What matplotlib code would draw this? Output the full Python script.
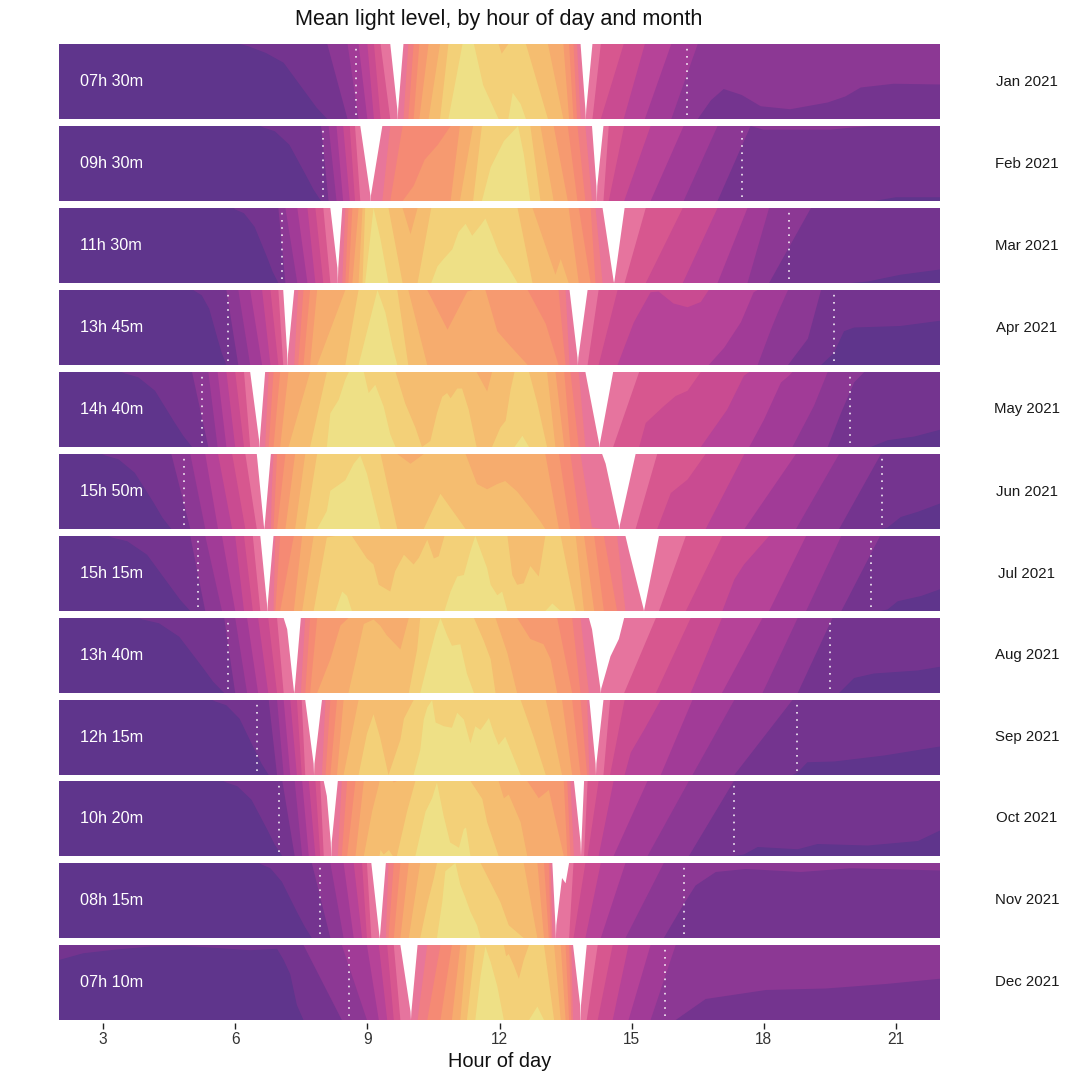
import matplotlib
matplotlib.use('Agg')
import matplotlib.pyplot as plt

plt.rcParams['font.family'] = ['Liberation Sans', 'DejaVu Sans']

months = ['Jan 2021', 'Feb 2021', 'Mar 2021', 'Apr 2021', 'May 2021', 'Jun 2021',
          'Jul 2021', 'Aug 2021', 'Sep 2021', 'Oct 2021', 'Nov 2021', 'Dec 2021']
day_lengths = ['07h 30m', '09h 30m', '11h 30m', '13h 45m', '14h 40m', '15h 50m',
               '15h 15m', '13h 40m', '12h 15m', '10h 20m', '08h 15m', '07h 10m']
sunrise = [8.75, 8.0, 7.07, 5.84, 5.25, 4.84, 5.16, 5.83, 6.5, 7.0, 7.93, 8.58]
sunset = [16.25, 17.5, 18.58, 19.59, 19.95, 20.68, 20.43, 19.5, 18.75, 17.33, 16.18, 15.75]
hour_ticks = [3, 6, 9, 12, 15, 18, 21]

# hours and mean level per month, level is in band units (one band = panel height)
hours_jan = [2, 5, 5.8, 6.3, 6.7, 7.1, 7.6, 7.85, 8.09, 8.55, 8.8, 9.0, 9.15, 9.3, 9.52, 9.68, 9.70, 9.82, 9.93, 10.05, 10.18, 10.39, 10.65,
             10.84, 11.16, 11.4, 11.63, 11.98, 12.05, 12.2, 12.3, 12.48, 12.6, 13.1, 13.45, 13.58, 13.68, 13.76, 13.84,
             13.95, 13.97, 14.11, 14.3, 14.82, 15.3, 15.9, 16.5, 16.8, 17.09, 17.5, 17.93, 18.6, 19.45, 19.85, 20.2, 20.95, 22]
level_jan = [-8.6, -8.5, -8.05, -7.97, -7.88, -7.75, -7.35, -7.15, -7, -6, -5, -4, -3, -2, -1, -0.13, 0.13, 1, 2, 3, 4, 5, 6,
             7, 8, 8.05, 7.45, 7, 6.87, 7, 7.35, 7.2, 7, 6, 5, 4, 3, 2, 1,
             0.13, -0.13, -1, -2, -3, -4, -5, -6, -6.25, -6.4, -6.32, -6.17, -6.13, -6.22, -6.3, -6.42, -6.47, -6.46]

hours_feb = [2, 5, 6.4, 6.64, 6.9, 7.23, 7.6, 7.78, 7.95, 8.12, 8.3, 8.45, 8.6, 8.72, 8.84, 9.07, 9.08, 9.34, 9.52, 9.8, 10.05, 10.3,
             10.6, 10.89, 11.1, 11.4, 11.6, 11.8, 12.1, 12.42, 12.55, 12.7, 12.93, 13.23, 13.55, 13.77, 13.95, 14.1,
             14.2, 14.22, 14.36, 14.48, 14.83, 15.43, 16.18, 16.95, 17.7, 18, 19.5, 20, 20.5, 21, 22]
level_feb = [-8.6, -8.4, -8.05, -7.98, -7.93, -7.75, -7.35, -7.15, -7, -6, -5, -4, -3, -2, -1, -0.07, 0.07, 1, 2, 3, 3.2, 3.55,
             3.75, 4, 5, 6, 7, 7.45, 7.8, 8, 7.63, 7, 6, 5, 4, 3, 2, 1,
             0.2, -0.2, -1, -2, -3, -4, -5, -6, -7, -6.95, -6.95, -6.98, -7, -7.05, -7.05]

hours_mar = [2, 5, 5.9, 6.0, 6.2, 6.44, 6.72, 6.85, 6.98, 7.14, 7.41, 7.64, 7.82, 8.0, 8.16, 8.32, 8.34, 8.43, 8.5, 8.57, 8.66, 8.8, 8.89, 8.95,
             9.14, 9.3, 9.48, 9.8, 9.98, 10.14, 10.45, 10.59, 10.73, 10.93, 11.07, 11.23, 11.38, 11.57, 11.68, 11.84,
             11.98, 12.18, 12.41, 12.75, 13.23, 13.27, 13.39, 13.57, 13.8, 14.07, 14.18, 14.34, 14.59, 14.61, 14.84,
             15.32, 16.16, 16.95, 17.63, 18.12, 19.07, 19.98, 20.36, 21.1, 22]
level_mar = [-8.6, -8.4, -8.05, -7.98, -7.93, -7.75, -7.35, -7.15, -7, -6, -5, -4, -3, -2, -1, -0.2, 0.2, 1, 2, 3, 4, 5, 6, 7,
             8, 7.58, 7, 6, 5.65, 6, 7, 7.22, 7.32, 7.45, 7.68, 7.79, 7.63, 7.77, 7.86, 7.63,
             7.41, 7.23, 7, 6, 5.18, 5.11, 5.32, 5, 4, 3, 2, 1, 0.03, -0.03, -1,
             -2, -3, -4, -5, -6, -7, -7, -7.02, -7.11, -7.18]

hours_apr = [2, 4, 4.9, 5.1, 5.24, 5.41, 5.6, 5.7, 5.8, 6.07, 6.34, 6.61, 6.8, 6.98, 7.09, 7.18, 7.2, 7.34, 7.43, 7.55, 7.7, 7.86, 8.5, 8.8, 9.23,
             9.41, 9.57, 9.68, 9.93, 10.36, 10.82, 11.27, 11.4, 11.68, 11.95, 12.25, 12.64, 13.05, 13.34, 13.5, 13.59,
             13.77, 13.79, 14.0, 14.25, 14.68, 15.05, 15.43, 15.61, 15.95, 16.27, 16.57, 16.75, 17.1, 17.48, 17.77,
             17.86, 18.16, 18.32, 18.55, 19.0, 19.3, 19.59, 19.82, 20.05, 21.1, 22]
level_apr = [-8.6, -8.4, -8.05, -7.98, -7.93, -7.75, -7.35, -7.15, -7, -6, -5, -4, -3, -2, -1, -0.15, 0.15, 1, 2, 3, 4, 5, 6, 7, 8,
             7.7, 7.25, 7, 6, 5, 4.47, 4.98, 5, 5, 4.45, 4.25, 4, 3.55, 3, 2, 1,
             0.1, -0.1, -1, -2, -3, -3.57, -3.97, -3.98, -3.82, -3.77, -3.84, -4, -4.23, -4.57, -4.97,
             -5, -5.47, -5.7, -6, -6.35, -7, -7.16, -7.45, -7.5, -7.52, -7.59]

hours_may = [2, 3.2, 3.5, 3.8, 4.18, 4.6, 4.82, 5.02, 5.39, 5.6, 5.8, 6.0, 6.2, 6.34, 6.54, 6.56, 6.68, 6.76, 6.87, 7.02, 7.21, 7.7, 8.08,
             8.16, 8.35, 8.5, 8.58, 8.92, 9.03, 9.18, 9.37, 9.52, 9.64, 9.86, 10.09, 10.24, 10.43, 10.58, 10.7, 10.81,
             10.89, 11.04, 11.15, 11.3, 11.48, 11.72, 11.83, 12.02, 12.14, 12.25, 12.34, 12.52, 12.67, 12.86, 13.08,
             13.27, 13.47, 13.61, 13.8, 13.95, 14.26, 14.28, 14.58, 15.17, 15.32, 15.74, 16, 16.27, 16.57, 17.17,
             17.55, 17.67, 18.0, 18.39, 18.57, 18.65, 19.14, 19.45, 19.75, 20.05, 20.28, 20.43, 20.81, 21.42, 22]
level_may = [-8.5, -8.05, -7.98, -7.93, -7.75, -7.35, -7.15, -7, -6, -5, -4, -3, -2, -1, -0.1, 0.1, 1, 2, 3, 4, 5, 6, 7,
             7.45, 7.63, 7.9, 8, 8, 7.72, 7.83, 7.54, 7.17, 7, 6.58, 6.26, 6, 6.08, 6.45, 6.67, 6.72,
             6.65, 6.78, 6.78, 6.5, 6, 5.74, 6, 6.26, 6.35, 6.76, 7, 7.15, 7, 6.58, 6,
             5, 4, 3, 2, 1, 0.05, -0.05, -1, -2, -2.32, -2.55, -2.68, -2.75, -3, -3.5,
             -3.95, -4, -4.36, -4.86, -4.95, -5, -5.55, -6, -6.45, -6.86, -7, -7, -7.09, -7.14, -7.23]

hours_jun = [2, 2.8, 3.05, 3.35, 3.72, 4.15, 4.35, 4.55, 4.98, 5.32, 5.61, 5.93, 6.23, 6.49, 6.65, 6.67, 6.81, 6.83, 6.95, 7.14, 7.36, 7.59, 7.86,
             8.08, 8.16, 8.5, 8.69, 8.84, 8.99, 9.14, 9.3, 9.45, 9.68, 9.98, 10.28, 10.47, 10.66, 10.89, 11.11, 11.23,
             11.49, 11.72, 11.95, 12.13, 12.4, 12.7, 12.93, 13.04, 13.35, 13.61, 13.84, 14.1, 14.33, 14.41, 14.71, 14.73,
             15.09, 15.58, 15.89, 16.27, 16.68, 17.56, 18.73, 19.71, 20.66, 20.81, 21.11, 21.5, 22]
level_jun = [-8.5, -8.05, -7.98, -7.93, -7.75, -7.35, -7.15, -7, -6, -5, -4, -3, -2, -1, -0.05, 0.05, 1, 1.5, 3, 4, 5, 6, 7,
             7.24, 7.51, 7.65, 7.87, 7.98, 7.74, 7.38, 7, 6.6, 6, 5.87, 6, 6.24, 6.47, 6.28, 6.1, 6,
             5.6, 5.53, 5.6, 5.64, 5.5, 5.28, 5.1, 5, 4, 3, 2, 1.02, 1, 0.87, 0.05, -0.05,
             -1, -2, -2.48, -2.66, -3, -4, -5, -6, -7, -7.02, -7.16, -7.23, -7.34]

hours_jul = [2, 2.95, 3.2, 3.55, 4.0, 4.5, 4.75, 4.98, 5.32, 5.7, 6.0, 6.2, 6.4, 6.57, 6.72, 6.74, 6.87, 6.91, 7.02, 7.33, 7.52, 7.78, 8.08,
             8.27, 8.43, 8.54, 8.65, 8.99, 9.14, 9.26, 9.52, 9.63, 9.83, 10.05, 10.17, 10.36, 10.51, 10.62, 10.75, 10.89,
             11.04, 11.19, 11.34, 11.45, 11.72, 11.8, 11.95, 12.06, 12.18, 12.29, 12.4, 12.55, 12.7, 12.89, 13.04, 13.2,
             13.39, 13.61, 13.73, 13.92, 14.15, 14.37, 14.67, 14.86, 14.94, 15.27, 15.29, 15.62, 16.23, 17.06, 17.33,
             17.55, 18.12, 18.96, 19.76, 20.64, 20.81, 21.04, 21.57, 22]
level_jul = [-8.5, -8.05, -7.98, -7.93, -7.75, -7.35, -7.15, -7, -6, -5, -4, -3, -2, -1, -0.1, 0.1, 1, 2, 3, 4, 5, 6, 6.98,
             7, 7.26, 7.2, 7, 6.7, 6.62, 6.35, 6.26, 6.53, 6.75, 6.62, 6.71, 6.95, 6.7, 6.73, 7, 7.26,
             7.46, 7.48, 7.8, 8, 7.57, 7.35, 7.21, 7.26, 7, 6.48, 6.35, 6.37, 6.6, 6.46, 7, 7.1,
             7, 6.35, 6, 5, 4, 3, 2, 1, 0.8, 0.03, -0.03, -1, -2, -3, -3.42,
             -3.62, -4, -5, -6, -7, -7.02, -7.13, -7.2, -7.29]

hours_aug = [2, 3.6, 3.9, 4.27, 4.73, 5.25, 5.5, 5.75, 6.0, 6.27, 6.52, 6.75, 6.95, 7.1, 7.18, 7.33, 7.35, 7.49, 7.59, 7.7, 7.86, 8.16, 8.39,
             8.57, 8.76, 8.92, 9.14, 9.29, 9.44, 9.75, 9.94, 10.13, 10.2, 10.43, 10.55, 10.66, 10.81, 10.92, 11.11, 11.26,
             11.42, 11.64, 11.8, 11.91, 12.18, 12.4, 12.7, 13.0, 13.16, 13.31, 13.65, 13.84, 14.03, 14.1, 14.29, 14.31,
             14.52, 14.71, 14.83, 15.55, 16.34, 17.05, 17.97, 18.77, 19.56, 19.71, 20.05, 20.5, 21.49, 22]
level_aug = [-8.5, -8.05, -7.98, -7.93, -7.75, -7.35, -7.15, -7, -6, -5, -4, -3, -2, -1, -0.85, -0.04, 0.04, 1, 2, 3, 4, 4.45, 4.9,
             5, 5.49, 5.92, 5.98, 5.9, 5.77, 5.58, 6, 6.58, 7, 7.54, 7.81, 8, 7.77, 7.63, 7.65, 7.26,
             7, 6.7, 6.45, 6, 5.53, 5, 4.72, 4.65, 4.45, 4, 3, 2, 1, 0.85, 0.06, -0.06,
             -0.49, -0.72, -1, -2, -3, -4, -5, -6, -7, -7, -7.2, -7.26, -7.3, -7.35]

hours_sep = [2, 4, 5.3, 5.55, 5.8, 6.1, 6.43, 6.6, 6.76, 6.95, 7.1, 7.25, 7.4, 7.51, 7.59, 7.78, 7.8, 7.97, 8.05, 8.16, 8.31, 8.46, 8.8,
             8.99, 9.14, 9.29, 9.48, 9.75, 9.83, 10.05, 10.2, 10.28, 10.36, 10.47, 10.55, 10.74, 10.92, 11.04, 11.19,
             11.34, 11.45, 11.57, 11.76, 11.87, 11.98, 12.13, 12.48, 12.78, 13.05, 13.24, 13.42, 13.65, 13.84, 13.99,
             14.04, 14.18, 14.2, 14.36, 14.51, 14.84, 14.98, 15.28, 15.66, 16.38, 17.33, 18.65, 18.76, 18.99, 19.6,
             20.73, 22]
level_sep = [-8.5, -8.3, -8.05, -7.98, -7.93, -7.75, -7.35, -7.15, -7, -6, -5, -4, -3, -2, -1, -0.15, 0.15, 1, 2, 3, 4, 5, 6,
             6.55, 6.81, 6.5, 6, 6.47, 6.75, 7, 7.33, 7.74, 7.9, 8, 7.7, 7.65, 7.63, 7.83, 7.74,
             7.42, 7.65, 7.6, 7.76, 7.56, 7.4, 7.51, 7, 6.5, 6, 5.5, 5, 4, 3, 2,
             1, 0.15, -0.15, -1, -2, -3, -3.3, -3.6, -4, -5, -6, -7, -7.03, -7.17, -7.18,
             -7.26, -7.38]

hours_oct = [2, 4.5, 5.55, 5.8, 6.05, 6.37, 6.73, 6.9, 7.07, 7.35, 7.52, 7.67, 7.82, 7.93, 8.01, 8.08, 8.17, 8.19, 8.33, 8.42, 8.54, 8.73, 8.92, 9.11,
             9.26, 9.3, 9.37, 9.49, 9.6, 9.67, 9.9, 10.09, 10.32, 10.47, 10.58, 10.73, 10.88, 11.08, 11.19, 11.24, 11.34,
             11.61, 11.72, 11.98, 12.1, 12.21, 12.48, 12.63, 12.89, 13.12, 13.23, 13.46, 13.54, 13.61, 13.69, 13.84,
             13.86, 13.92, 14.0, 14.25, 14.59, 15.36, 16.3, 17.32, 17.55, 17.86, 18.77, 19.22, 20.36, 21.5, 22]
level_oct = [-8.5, -8.3, -8.05, -7.98, -7.93, -7.75, -7.35, -7.15, -7, -6, -5, -4, -3, -2, -1, -0.8, -0.18, 0.18, 1, 2, 3, 4, 5, 5.6,
             5.95, 6.08, 6.02, 6.08, 5.98, 6, 6.59, 7, 7.59, 7.77, 7.98, 7.54, 7.18, 7.11, 7.36, 7.38, 7,
             6.76, 6.45, 6, 5.77, 5.82, 5.45, 5, 4.77, 4.88, 4.59, 4, 3, 2, 1, 0.18,
             -0.18, -1, -2, -3, -4, -5, -6, -7, -7.02, -7.12, -7.09, -7.16, -7.14, -7.2, -7.34]

hours_nov = [2, 5, 6.4, 6.6, 6.8, 7.06, 7.4, 7.58, 7.74, 8.16, 8.46, 8.69, 8.88, 8.99, 9.09, 9.27, 9.29, 9.42, 9.48, 9.6, 9.75, 9.94, 10.2, 10.36,
             10.51, 10.58, 10.7, 10.77, 10.85, 11, 11.11, 11.23, 11.34, 11.49, 11.57, 12.02, 12.21, 12.55, 12.86, 13.01,
             13.12, 13.16, 13.2, 13.27, 13.29, 13.42, 13.5, 13.58, 13.68, 13.95, 14.3, 14.86, 15.73, 16.18, 16.45, 16.91,
             17.59, 18.84, 19.98, 22]
level_nov = [-8.5, -8.3, -8.05, -7.98, -7.93, -7.75, -7.35, -7.15, -7, -6, -5, -4, -3, -2, -1, -0.05, 0.05, 1, 2, 3, 4, 5, 6, 6.45,
             6.8, 7, 7.48, 7.89, 7.93, 8, 7.71, 7.53, 7.35, 7.17, 7, 6.48, 6.17, 6, 5, 4,
             3, 2, 1, 0.17, -0.17, -0.8, -0.73, -1, -2, -3, -4, -5, -6, -6.45, -6.7, -6.88,
             -6.92, -6.88, -6.93, -6.9]

hours_dec = [2, 2.55, 3.31, 4.07, 4.83, 6.34, 6.95, 7.1, 7.25, 7.4, 7.55, 8.42, 8.99, 9.26, 9.45, 9.6, 9.75, 9.98, 10.0, 10.14,
             10.36, 10.66, 10.92, 11.11, 11.26, 11.45, 11.57, 11.68, 11.8, 11.95, 12.1, 12.15, 12.21, 12.33, 12.44, 12.55,
             12.67, 12.86, 13.01, 13.24, 13.39, 13.5, 13.58, 13.63, 13.67, 13.83, 13.85, 13.98, 14.23, 14.57, 14.93, 15.43,
             16.0, 16.68, 18.05, 19.41, 20.77, 22]
level_dec = [-7.8, -7.89, -7.94, -7.98, -7.99, -7.93, -7.95, -7.8, -7.61, -7.2, -7, -6, -5, -4, -3, -2, -1, -0.11, 0.11, 1,
             2, 3, 4, 5, 6, 7, 7.59, 7.98, 7.77, 7.45, 7, 6.85, 6.88, 6.72, 6.55, 6.8,
             7, 7.18, 7, 6, 5, 4, 3, 2, 1, 0.2, -0.2, -1, -2, -3, -4, -5,
             -6, -6.28, -6.4, -6.42, -6.48, -6.55]

all_hours = [hours_jan, hours_feb, hours_mar, hours_apr, hours_may, hours_jun,
             hours_jul, hours_aug, hours_sep, hours_oct, hours_nov, hours_dec]
all_levels = [level_jan, level_feb, level_mar, level_apr, level_may, level_jun,
              level_jul, level_aug, level_sep, level_oct, level_nov, level_dec]

neg_colors = ['#E6749E', '#D7578F', '#C94B91', '#B64398', '#A13B97', '#8C3894', '#74348F', '#5F358C']
pos_colors = ['#E8769A', '#F07E84', '#F58A74', '#F69A70', '#F6AC6E', '#F5BD70', '#F3D078', '#EEE086']

W = 1080
panel_tops = [44, 126, 208, 290, 372, 454, 536, 618, 700, 781, 863, 945]
panel_h = 75  # whole pixels, so nothing leaks past the clip box

fig = plt.figure(figsize=(10.8, 10.8), dpi=100)

for i in range(12):
    ax = fig.add_axes([59 / W, 1 - (panel_tops[i] + panel_h) / W, 881 / W, panel_h / W])
    h = all_hours[i]
    v = all_levels[i]
    # horizon bands: both signs fill up from the bottom, axes limits clip them
    for k, c in enumerate(neg_colors):
        ax.fill_between(h, 0, [-x - k for x in v], color=c, lw=0)
    for k, c in enumerate(pos_colors):
        ax.fill_between(h, 0, [x - k for x in v], color=c, lw=0)
    for t in (sunrise[i], sunset[i]):
        ax.plot([t, t], [0.05, 0.97], color='white', lw=1.2, ls=(0, (1, 3.3)), alpha=0.9)
    ax.text(2.48, 0.5, day_lengths[i], color='white', fontsize=11.7, va='center', ha='left')
    ax.text(1.0987, 0.5, months[i], transform=ax.transAxes, color='#1a1a1a', fontsize=10.8,
            va='center', ha='center')
    ax.set_xlim(2, 22)
    ax.set_ylim(0, 1)
    ax.set_yticks([])
    for s in ax.spines.values():
        s.set_visible(False)
    if i == 11:
        ax.spines['bottom'].set_position(('outward', 2.5))
        ax.set_xticks(hour_ticks)
        ax.tick_params(axis='x', length=4, width=1, pad=2.5, labelsize=11.2, labelcolor='#333333', color='#222222')
        ax.set_xlabel('Hour of day', fontsize=14.4, color='#111111', labelpad=3.5)
    else:
        ax.set_xticks([])

fig.text(499 / W, 1 - 19 / W, 'Mean light level, by hour of day and month', fontsize=15.6,
         color='#111111', ha='center', va='center')

fig.savefig('out.png', dpi=100)
